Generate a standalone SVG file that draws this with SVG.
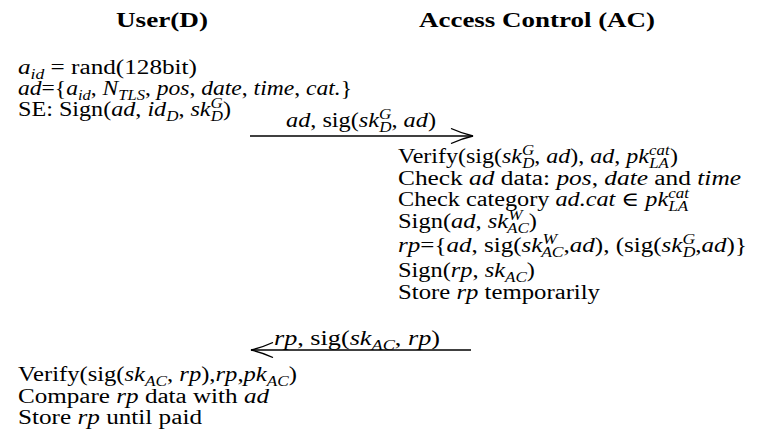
<svg xmlns="http://www.w3.org/2000/svg" width="760" height="434" viewBox="0 0 760 434">
<style>
.t{font-family:"Liberation Serif","DejaVu Serif",serif;font-size:20px;fill:#000}
.b{font-weight:bold;font-size:21px}
.i{font-style:italic}
.s{font-size:14px}
.ln{stroke:#000;stroke-width:1.3;fill:none}
</style>
<defs>
<marker id="ah" viewBox="0 0 24 16" refX="23" refY="8" markerWidth="24" markerHeight="16" markerUnits="userSpaceOnUse" orient="auto-start-reverse">
<path d="M1,0.5 Q12,5.5 23,8 Q12,10.5 1,15.5" stroke="#000" stroke-width="1.3" fill="none"/>
</marker>
</defs>
<rect width="760" height="434" fill="#fff"/>
<g id="user-header"><text class="t b" x="116" y="27" textLength="92" lengthAdjust="spacingAndGlyphs">User(D)</text></g>
<g id="ac-header"><text class="t b" x="419" y="27" textLength="236" lengthAdjust="spacingAndGlyphs">Access Control (AC)</text></g>
<g id="user-prepare">
<text class="t" x="18" y="74" textLength="179" lengthAdjust="spacingAndGlyphs"><tspan class="i">a</tspan><tspan class="s i" dy="5">id</tspan><tspan dy="-5"> = rand(128bit)</tspan></text>
<text class="t" x="18" y="95" textLength="334" lengthAdjust="spacingAndGlyphs"><tspan class="i">ad</tspan>={<tspan class="i">a</tspan><tspan class="s i" dy="5">id</tspan><tspan dy="-5">, </tspan><tspan class="i">N</tspan><tspan class="s i" dy="5">TLS</tspan><tspan dy="-5">, </tspan><tspan class="i">pos</tspan>, <tspan class="i">date</tspan>, <tspan class="i">time</tspan>, <tspan class="i">cat.</tspan>}</text>
<text class="t" x="18" y="116" textLength="213" lengthAdjust="spacingAndGlyphs">SE: Sign(<tspan class="i">ad</tspan>, <tspan class="i">id</tspan><tspan class="s i" dy="5">D</tspan><tspan dy="-5">, </tspan><tspan class="i">sk</tspan><tspan class="s i" dy="-8">G</tspan><tspan class="s i" dx="-10" dy="13">D</tspan><tspan dy="-5">)</tspan></text>
</g>
<g id="ac-process">
<text class="t" x="398" y="163" textLength="280" lengthAdjust="spacingAndGlyphs">Verify(sig(<tspan class="i">sk</tspan><tspan class="s i" dy="-8">G</tspan><tspan class="s i" dx="-10" dy="13">D</tspan><tspan dy="-5">, </tspan><tspan class="i">ad</tspan>), <tspan class="i">ad</tspan>, <tspan class="i">pk</tspan><tspan class="s i" dy="-8">cat</tspan><tspan class="s i" dx="-17" dy="13">LA</tspan><tspan dx="1" dy="-5">)</tspan></text>
<text class="t" x="398" y="185" textLength="343" lengthAdjust="spacingAndGlyphs">Check <tspan class="i">ad</tspan> data: <tspan class="i">pos</tspan>, <tspan class="i">date</tspan> and <tspan class="i">time</tspan></text>
<text class="t" x="398" y="206" textLength="291" lengthAdjust="spacingAndGlyphs">Check category <tspan class="i">ad.cat</tspan> ∈ <tspan class="i">pk</tspan><tspan class="s i" dy="-8">cat</tspan><tspan class="s i" dx="-17" dy="13">LA</tspan></text>
<text class="t" x="398" y="228" textLength="139" lengthAdjust="spacingAndGlyphs">Sign(<tspan class="i">ad</tspan>, <tspan class="i">sk</tspan><tspan class="s i" dy="-8">W</tspan><tspan class="s i" dx="-11.7" dy="13">AC</tspan><tspan dy="-5">)</tspan></text>
<text class="t" x="398" y="252" textLength="349" lengthAdjust="spacingAndGlyphs"><tspan class="i">rp</tspan>={<tspan class="i">ad</tspan>, sig(<tspan class="i">sk</tspan><tspan class="s i" dy="-8">W</tspan><tspan class="s i" dx="-11.7" dy="13">AC</tspan><tspan dy="-5">,</tspan><tspan class="i">ad</tspan>), (sig(<tspan class="i">sk</tspan><tspan class="s i" dy="-8">G</tspan><tspan class="s i" dx="-10" dy="13">D</tspan><tspan dy="-5">,</tspan><tspan class="i">ad</tspan>)}</text>
<text class="t" x="398" y="277" textLength="137" lengthAdjust="spacingAndGlyphs">Sign(<tspan class="i">rp</tspan>, <tspan class="i">sk</tspan><tspan class="s i" dy="5">AC</tspan><tspan dy="-5">)</tspan></text>
<text class="t" x="398" y="299" textLength="202" lengthAdjust="spacingAndGlyphs">Store <tspan class="i">rp</tspan> temporarily</text>
</g>
<g id="user-verify">
<text class="t" x="18" y="381" textLength="279" lengthAdjust="spacingAndGlyphs">Verify(sig(<tspan class="i">sk</tspan><tspan class="s i" dy="5">AC</tspan><tspan dy="-5">, </tspan><tspan class="i">rp</tspan>),<tspan class="i">rp</tspan>,<tspan class="i">pk</tspan><tspan class="s i" dy="5">AC</tspan><tspan dy="-5">)</tspan></text>
<text class="t" x="18" y="403" textLength="251" lengthAdjust="spacingAndGlyphs">Compare <tspan class="i">rp</tspan> data with <tspan class="i">ad</tspan></text>
<text class="t" x="18" y="424" textLength="184" lengthAdjust="spacingAndGlyphs">Store <tspan class="i">rp</tspan> until paid</text>
</g>
<g id="connectors">
<line class="ln" x1="250" y1="136" x2="473" y2="136" marker-end="url(#ah)"/>
<text class="t" x="286" y="127" textLength="150" lengthAdjust="spacingAndGlyphs"><tspan class="i">ad</tspan>, sig(<tspan class="i">sk</tspan><tspan class="s i" dy="-8">G</tspan><tspan class="s i" dx="-10" dy="13">D</tspan><tspan dy="-5">, </tspan><tspan class="i">ad</tspan>)</text>
<line class="ln" x1="471" y1="350" x2="251" y2="350" marker-end="url(#ah)"/>
<text class="t" x="274" y="345" textLength="166" lengthAdjust="spacingAndGlyphs"><tspan class="i">rp</tspan>, sig(<tspan class="i">sk</tspan><tspan class="s i" dy="5">AC</tspan><tspan dy="-5">, </tspan><tspan class="i">rp</tspan>)</text>
</g>
</svg>
